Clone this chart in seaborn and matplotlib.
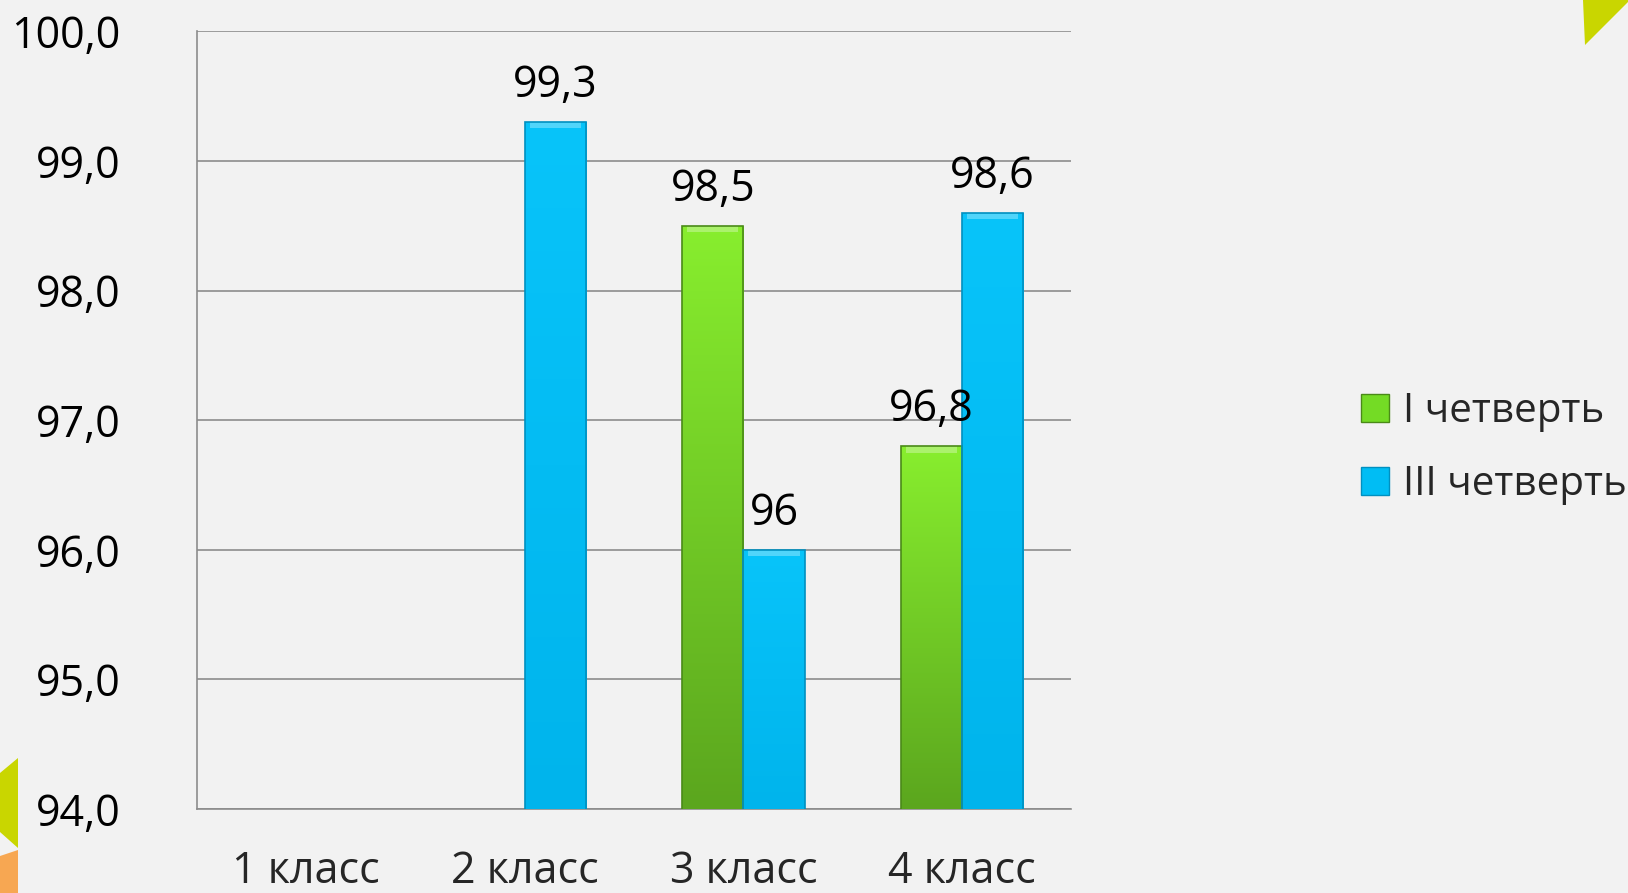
import numpy as np
import pandas as pd
import matplotlib
matplotlib.use("Agg")
import matplotlib.pyplot as plt
import matplotlib.patches as mpatches
import seaborn as sns

categories = ["1 класс", "2 класс", "3 класс", "4 класс"]
series_names = ["I четверть", "III четверть"]
q1_values = [np.nan, np.nan, 98.5, 96.8]
q3_values = [np.nan, 99.3, 96.0, 98.6]
y_ticks = [94, 95, 96, 97, 98, 99, 100]

df = pd.DataFrame({
    "class": categories * 2,
    "series": [series_names[0]] * 4 + [series_names[1]] * 4,
    "value": q1_values + q3_values,
})

sns.set_style("white")
plt.rcParams['font.family'] = ['Open Sans', 'DejaVu Sans']

BG = "#F2F2F2"
FS = 31
fig = plt.figure(figsize=(16.28, 8.93), dpi=100, facecolor=BG)
ax = fig.add_axes([0.121, 0.094, 0.537, 0.871])
ax.set_facecolor(BG)

palette = {series_names[0]: "#74DB25", series_names[1]: "#00BDF4"}
sns.barplot(data=df.dropna(), x="class", y="value", hue="series", order=categories,
            hue_order=series_names, palette=palette, width=0.56, gap=0,
            saturation=1, errorbar=None, ax=ax, legend=True, zorder=3)

ax.set_ylim(94, 100)
ax.set_xlim(-0.5, 3.5)

# gradient fill on bars
grad = {
    series_names[0]: ("#88EE2E", "#5BA61E", "#4A8A18"),
    series_names[1]: ("#08C4FA", "#00B4EC", "#0090C0"),
}
cont_list = ax.containers
for cont, name in zip(cont_list, series_names):
    top_c, bot_c, edge_c = grad[name]
    cmap = matplotlib.colors.LinearSegmentedColormap.from_list("g", [bot_c, top_c])
    for p in cont.patches:
        h = p.get_height()
        if not np.isfinite(h) or h == 0:
            continue
        x0 = p.get_x(); w = p.get_width()
        y1 = p.get_y() + h
        img = np.linspace(0, 1, 256).reshape(-1, 1)
        im = ax.imshow(img, cmap=cmap, extent=[x0, x0 + w, 94, y1], origin="lower",
                       aspect="auto", zorder=3.5)
        im.set_clip_path(p)
        bev = mpatches.Rectangle((x0 + w * 0.08, y1 - 0.05), w * 0.84, 0.05,
                                 facecolor="white", alpha=0.3, lw=0, zorder=3.6)
        ax.add_patch(bev)
        p.set_edgecolor(edge_c)
        p.set_linewidth(1.2)
        p.set_zorder(3.7)
        p.set_facecolor("none")
ax.set_xlim(-0.5, 3.5)
ax.set_ylim(94, 100)

def fmt(v):
    if abs(v - round(v)) < 1e-9:
        return f"{int(round(v))}"
    return f"{v:.1f}".replace(".", ",")

for cont in cont_list:
    for p in cont.patches:
        h = p.get_height()
        if not np.isfinite(h) or h == 0:
            continue
        ax.annotate(fmt(h), (p.get_x() + p.get_width() / 2, h), xytext=(0, 10),
                    textcoords="offset points", ha="center", va="bottom",
                    fontsize=FS, color="black", zorder=5)

# axes styling
ax.set_yticks(y_ticks)
ax.set_yticklabels([f"{v:.1f}".replace(".", ",") for v in y_ticks], fontsize=FS)
ax.grid(axis="y", color="#8C8C8C", lw=1.2, zorder=0)
ax.set_axisbelow(True)
for s in ["top", "right"]:
    ax.spines[s].set_visible(False)
for s in ["left", "bottom"]:
    ax.spines[s].set_color("#8C8C8C")
    ax.spines[s].set_linewidth(1.2)
ax.tick_params(axis="y", length=9, width=1.2, color="#8C8C8C", pad=46, labelcolor="black")
ax.set_xticks(range(4))
ax.set_xticklabels(categories, fontsize=FS)
ax.set_xticks(np.arange(-0.5, 4, 1), minor=True)
ax.tick_params(axis="x", which="major", length=0, pad=29)
ax.tick_params(axis="x", which="minor", length=9, width=1.2, color="#8C8C8C")
ax.set_xlabel("")
ax.set_ylabel("")

# legend
handles = [mpatches.Rectangle((0, 0), 1, 1, facecolor="#74DB25", edgecolor="#4A8A18", lw=1),
           mpatches.Rectangle((0, 0), 1, 1, facecolor="#00BDF4", edgecolor="#0090C0", lw=1)]
ax.legend_.remove()
fig.legend(handles, series_names, loc="center left", bbox_to_anchor=(0.826, 0.498),
           frameon=False, fontsize=29, handlelength=0.7, handleheight=0.7,
           handletextpad=0.35, labelspacing=0.8, borderaxespad=0)

# decorative corner shapes
W, H = 1628, 893
def fpoly(pts, color):
    fig.patches.append(mpatches.Polygon([(x / W, 1 - y / H) for x, y in pts], closed=True,
                                        transform=fig.transFigure, facecolor=color,
                                        edgecolor="none", zorder=0))
fpoly([(1583, 0), (1628, 0), (1628, 2), (1585, 45)], "#C9D600")
fpoly([(0, 773), (18, 758), (18, 848), (0, 832)], "#C9D600")
fpoly([(0, 856), (18, 850), (18, 893), (0, 893)], "#F7A752")

fig.savefig("out.png", dpi=100, facecolor=BG)
